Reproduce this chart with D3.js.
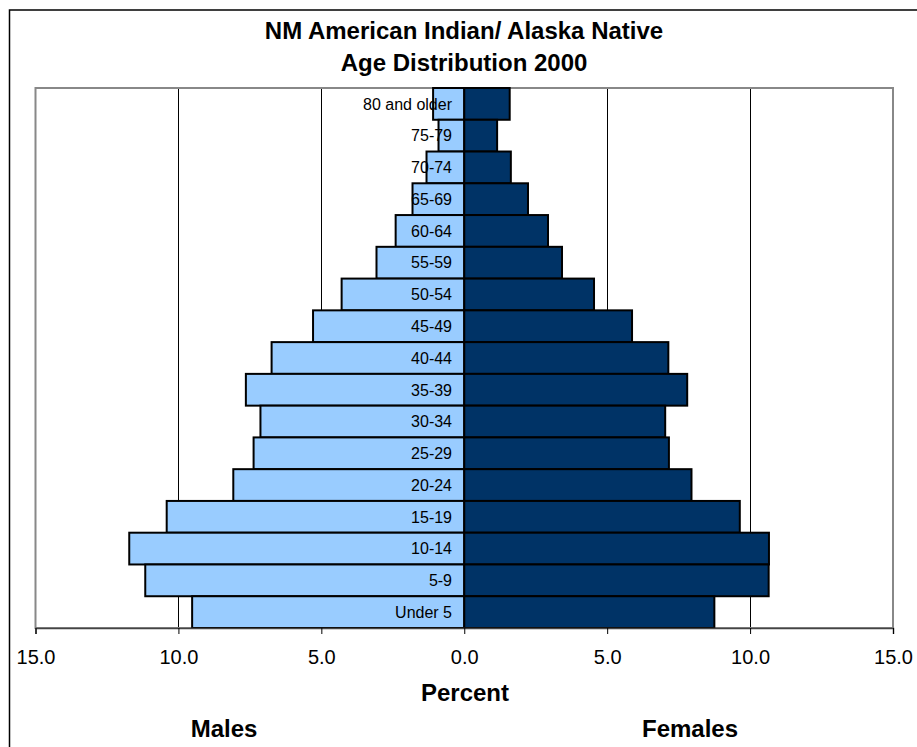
<!DOCTYPE html>
<html>
<head>
<meta charset="utf-8">
<script src="https://cdn.jsdelivr.net/npm/d3@7"></script>
<style>
  html, body { margin: 0; padding: 0; background: #fff; }
  svg { display: block; font-family: Arial, "Liberation Sans", sans-serif; }
</style>
</head>
<body>
<svg id="chart" width="917" height="747"></svg>
<script>
// Age groups, oldest at the top of the pyramid
const ageGroups = ["80 and older", "75-79", "70-74", "65-69", "60-64", "55-59", "50-54",
  "45-49", "40-44", "35-39", "30-34", "25-29", "20-24", "15-19", "10-14", "5-9", "Under 5"];

// Percent of population in each age group
const malePct = [1.09, 0.90, 1.32, 1.81, 2.40, 3.07, 4.29, 5.29, 6.74, 7.64, 7.13, 7.37,
  8.08, 10.41, 11.72, 11.16, 9.52];
const femalePct = [1.59, 1.15, 1.63, 2.23, 2.93, 3.42, 4.54, 5.87, 7.14, 7.80, 7.03, 7.16,
  7.95, 9.64, 10.66, 10.65, 8.75];

// Axis ticks (signed; labels shown as absolute values)
const tickValues = [-15, -10, -5, 0, 5, 10, 15];

const titleLines = ["NM American Indian/ Alaska Native", "Age Distribution 2000"];

const svg = d3.select("#chart");

const plotLeft = 35.5, plotRight = 893, plotTop = 88, plotBottom = 628;

const x = d3.scaleLinear().domain([-15, 15]).range([plotLeft, plotRight]);
const y = d3.scaleBand().domain(ageGroups).range([plotTop, plotBottom]).padding(0);

// Outer chart border
svg.append("rect")
  .attr("x", 9.5).attr("y", 10)
  .attr("width", 930).attr("height", 760)
  .attr("fill", "#fff")
  .attr("stroke", "#000").attr("stroke-width", 1.5);

// Title
svg.append("g").selectAll("text")
  .data(titleLines)
  .join("text")
  .attr("x", 464)
  .attr("y", (d, i) => 39 + i * 32)
  .attr("text-anchor", "middle")
  .attr("font-weight", "bold")
  .attr("font-size", 24)
  .attr("fill", "#000")
  .text(d => d);

// Vertical gridlines
svg.append("g").selectAll("line")
  .data(tickValues.filter(t => Math.abs(t) !== 15 && t !== 0))
  .join("line")
  .attr("x1", d => Math.round(x(d)) + 0.5)
  .attr("x2", d => Math.round(x(d)) + 0.5)
  .attr("y1", plotTop).attr("y2", plotBottom)
  .attr("stroke", "#000").attr("stroke-width", 1);

// Plot area frame
svg.append("rect")
  .attr("x", plotLeft).attr("y", plotTop)
  .attr("width", plotRight - plotLeft).attr("height", plotBottom - plotTop)
  .attr("fill", "none")
  .attr("stroke", "#888").attr("stroke-width", 2);

// Male bars (left of zero)
svg.append("g").selectAll("rect")
  .data(ageGroups.map((g, i) => ({ g, v: malePct[i] })))
  .join("rect")
  .attr("x", d => x(-d.v))
  .attr("y", d => y(d.g))
  .attr("width", d => x(0) - x(-d.v))
  .attr("height", y.bandwidth())
  .attr("fill", "#99CCFF")
  .attr("stroke", "#000").attr("stroke-width", 2);

// Female bars (right of zero)
svg.append("g").selectAll("rect")
  .data(ageGroups.map((g, i) => ({ g, v: femalePct[i] })))
  .join("rect")
  .attr("x", x(0))
  .attr("y", d => y(d.g))
  .attr("width", d => x(d.v) - x(0))
  .attr("height", y.bandwidth())
  .attr("fill", "#003366")
  .attr("stroke", "#000").attr("stroke-width", 2);

// Age group labels
svg.append("g").selectAll("text")
  .data(ageGroups)
  .join("text")
  .attr("x", 452)
  .attr("y", d => y(d) + y.bandwidth() / 2)
  .attr("dy", "0.36em")
  .attr("text-anchor", "end")
  .attr("font-size", 16)
  .attr("fill", "#000")
  .text(d => d);

// Bottom axis
const axis = d3.axisBottom(x)
  .tickValues(tickValues)
  .tickSize(6)
  .tickPadding(16)
  .tickFormat(d => Math.abs(d).toFixed(1));

const gAxis = svg.append("g")
  .attr("transform", `translate(0,${plotBottom})`)
  .call(axis);
gAxis.select(".domain").attr("stroke", "#444").attr("stroke-width", 1.5);
gAxis.selectAll(".tick line").attr("stroke", "#000");
gAxis.selectAll(".tick text")
  .attr("font-size", 20)
  .attr("font-family", "Arial, 'Liberation Sans', sans-serif")
  .attr("fill", "#000");

// Axis title and side labels
svg.append("text")
  .attr("x", 465).attr("y", 701)
  .attr("text-anchor", "middle")
  .attr("font-weight", "bold").attr("font-size", 24)
  .text("Percent");

svg.append("text")
  .attr("x", 224).attr("y", 737)
  .attr("text-anchor", "middle")
  .attr("font-weight", "bold").attr("font-size", 24)
  .text("Males");

svg.append("text")
  .attr("x", 690).attr("y", 737)
  .attr("text-anchor", "middle")
  .attr("font-weight", "bold").attr("font-size", 24)
  .text("Females");
</script>
</body>
</html>
